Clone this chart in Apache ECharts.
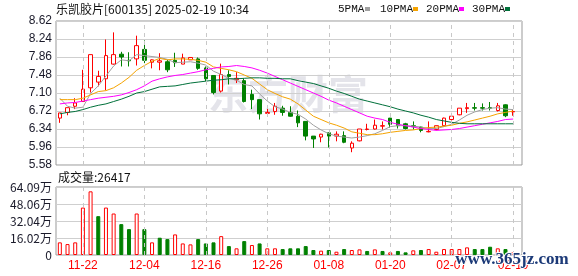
<!DOCTYPE html>
<html><head><meta charset="utf-8">
<script src="https://cdn.jsdelivr.net/npm/echarts@6/dist/echarts.min.js"></script>
<style>html,body{margin:0;padding:0;background:#fff}#c{width:578px;height:276px}</style>
</head><body><div id="c"></div>
<script>
const dates = ['11-19','11-20','11-21','11-22','11-25','11-26','11-27','11-28','11-29','12-02',
'12-03','12-04','12-05','12-06','12-09','12-10','12-11','12-12','12-13','12-16',
'12-17','12-18','12-19','12-20','12-23','12-24','12-25','12-26','12-27','12-30',
'12-31','01-02','01-03','01-06','01-07','01-08','01-09','01-10','01-13','01-14',
'01-15','01-16','01-17','01-20','01-21','01-22','01-23','01-24','01-27','02-05',
'02-06','02-07','02-10','02-11','02-12','02-13','02-14','02-17','02-18','02-19'];
const opens = [6.57,6.69,6.82,6.92,7.21,7.33,7.40,7.71,7.92,7.79,
7.82,8.02,7.75,7.75,7.76,7.79,7.71,7.80,7.82,7.63,
7.47,7.14,7.49,7.38,7.36,7.07,6.96,6.67,6.71,6.78,
6.69,6.61,6.50,6.19,6.17,6.26,6.19,6.20,5.94,6.09,
6.33,6.34,6.40,6.57,6.54,6.45,6.41,6.38,6.28,6.33,
6.41,6.54,6.64,6.77,6.79,6.79,6.79,6.73,6.85,6.70];
const closes = [6.68,6.79,6.89,7.18,7.91,7.45,7.89,7.91,7.86,7.78,
8.10,7.79,7.80,7.78,7.59,7.74,7.84,7.85,7.62,7.40,
7.11,7.49,7.45,7.41,6.92,6.96,6.66,6.69,6.82,6.69,
6.61,6.47,6.19,6.13,6.23,6.19,6.23,6.06,6.04,6.34,
6.34,6.42,6.41,6.44,6.41,6.35,6.39,6.31,6.29,6.41,
6.57,6.61,6.78,6.79,6.78,6.78,6.78,6.83,6.62,6.71];
const lows = [6.47,6.63,6.76,6.92,7.11,7.24,7.16,7.70,7.66,7.66,
7.68,7.73,7.62,7.58,7.54,7.65,7.71,7.80,7.59,7.35,
7.07,7.11,7.28,7.31,6.90,6.76,6.54,6.66,6.64,6.62,
6.60,6.38,6.10,5.94,6.06,5.95,6.08,6.04,5.85,6.08,
6.31,6.33,6.33,6.37,6.35,6.33,6.33,6.27,6.27,6.31,
6.40,6.52,6.63,6.68,6.73,6.73,6.73,6.71,6.59,6.62];
const highs = [6.68,6.79,6.99,7.59,7.91,7.57,8.23,8.38,7.97,7.96,
8.31,8.21,7.81,7.94,7.80,7.95,7.93,7.86,7.85,7.66,
7.47,7.72,7.58,7.54,7.41,7.17,6.96,6.83,6.89,6.83,
6.82,6.73,6.50,6.19,6.24,6.26,6.29,6.29,6.08,6.34,
6.45,6.54,6.50,6.57,6.54,6.47,6.50,6.39,6.50,6.41,
6.58,6.68,6.78,6.89,6.89,6.88,6.91,6.89,6.86,6.75];
// volume in 万 (10k hands)
const volumes = [11.9,10.3,11.9,44.7,60.0,36.6,44.7,39.1,29.1,24.4,
39.1,24.4,11.9,16.3,15.0,19.4,10.9,10.0,15.0,10.9,
11.9,17.8,8.4,6.3,13.1,9.4,10.9,6.3,6.3,5.6,
6.3,6.3,8.4,4.7,4.1,4.7,3.1,5.6,4.7,5.3,
3.8,5.3,3.8,2.5,3.8,2.5,4.4,4.7,5.6,3.1,
5.6,5.6,5.6,7.2,5.6,5.6,7.8,6.3,5.6,2.64];
// 1 = up day, 0 = down day (volume bar direction)
const volUp = [1,1,1,1,1,0,1,1,0,0,
1,0,1,0,0,1,1,1,0,0,
0,1,0,1,0,1,0,1,1,0,
0,0,0,0,1,0,1,0,1,1,
0,1,0,1,0,0,1,0,1,1,
1,1,1,1,0,0,0,1,0,1];
const ma5 = [6.99,6.82,6.78,6.80,7.09,7.25,7.46,7.67,7.80,7.78,
7.91,7.89,7.87,7.85,7.81,7.74,7.75,7.76,7.73,7.69,
7.56,7.49,7.41,7.37,7.28,7.25,7.08,6.93,6.81,6.76,
6.69,6.65,6.55,6.42,6.32,6.24,6.19,6.17,6.15,6.17,
6.20,6.24,6.31,6.39,6.41,6.41,6.40,6.38,6.35,6.35,
6.39,6.44,6.53,6.63,6.70,6.75,6.78,6.79,6.76,6.75];
const ma10 = [6.96,6.96,6.96,6.99,7.06,7.13,7.15,7.21,7.31,7.43,
7.58,7.68,7.77,7.83,7.80,7.82,7.82,7.81,7.79,7.75,
7.65,7.62,7.59,7.55,7.48,7.41,7.29,7.17,7.09,7.02,
6.97,6.87,6.74,6.61,6.54,6.47,6.42,6.36,6.28,6.25,
6.22,6.22,6.24,6.27,6.29,6.31,6.32,6.35,6.37,6.38,
6.40,6.42,6.46,6.49,6.53,6.57,6.61,6.66,6.69,6.72];
const ma20 = [6.87,6.89,6.90,6.93,6.96,6.99,7.01,7.03,7.06,7.11,
7.17,7.25,7.35,7.40,7.44,7.47,7.49,7.52,7.55,7.59,
7.62,7.65,7.66,7.68,7.66,7.63,7.58,7.52,7.45,7.38,
7.31,7.24,7.17,7.10,7.03,6.95,6.89,6.82,6.75,6.68,
6.61,6.57,6.54,6.48,6.44,6.41,6.38,6.35,6.33,6.31,
6.32,6.33,6.35,6.38,6.41,6.44,6.47,6.50,6.54,6.55];
const ma30 = [6.66,6.69,6.71,6.75,6.80,6.84,6.87,6.92,6.97,7.03,
7.10,7.13,7.18,7.23,7.24,7.25,7.28,7.31,7.33,7.35,
7.37,7.38,7.40,7.40,7.41,7.42,7.42,7.41,7.41,7.40,
7.40,7.36,7.33,7.30,7.25,7.20,7.14,7.09,7.03,6.97,
6.93,6.89,6.85,6.81,6.76,6.72,6.68,6.63,6.59,6.54,
6.51,6.48,6.46,6.45,6.45,6.45,6.45,6.45,6.45,6.45];
const priceTicks = ['5.58','5.96','6.34','6.72','7.10','7.48','7.86','8.24','8.62'];
const volTicks = ['0','16.02万','32.04万','48.06万','64.09万'];
const dateTicks = ['11-22','12-04','12-16','12-26','01-08','01-20','02-07','02-19'];
const maNames = ['5PMA','10PMA','20PMA','30PMA'];
const titleText = '乐凯胶片[600135] 2025-02-19 10:34';
const volText = '成交量:26417';
const priceMin = 5.58, priceMax = 8.62, volMax = 64.09;

const RED = '#ff0000', GREEN = '#008000';
const maColors = ['#a0a0a0', '#f5a300', '#ff00ff', '#00703a'];
const SANS = '"Liberation Sans", Arial, sans-serif';
const CJK = '"Noto Sans CJK SC", "Liberation Sans", sans-serif';
const MONO = '"Liberation Mono", monospace';

const chart = echarts.init(document.getElementById('c'));

const dashLines = {
  silent: true, symbol: ['none','none'], animation: false,
  label: {show: false},
  lineStyle: {color: '#c8c8c8', type: [4, 4], width: 1},
  emphasis: {disabled: true},
  data: dateTicks.map(d => ({xAxis: d}))
};

const maSeries = [ma5, ma10, ma20, ma30].map((arr, k) => ({
  name: maNames[k], type: 'line', xAxisIndex: 1, yAxisIndex: 1,
  data: arr, showSymbol: false, symbol: 'none', smooth: false,
  lineStyle: {color: maColors[k], width: 1}, itemStyle: {color: maColors[k]},
  silent: true, animation: false, z: 3
}));

const legendX = [338, 380, 426, 472];
const boxX = [365, 413, 459, 505];
const legendGraphics = [];
maNames.forEach((n, k) => {
  legendGraphics.push({type: 'text', x: legendX[k], y: 9, style: {text: n, fill: '#111', font: '11px ' + MONO, verticalAlign: 'middle', align: 'left'}});
  legendGraphics.push({type: 'rect', shape: {x: boxX[k], y: 7, width: 5, height: 4}, style: {fill: maColors[k]}});
});

chart.setOption({
  animation: false,
  backgroundColor: '#fff',
  grid: [
    {left: 56, top: 21, width: 466, height: 144, show: true, borderColor: '#999', borderWidth: 1, backgroundColor: 'transparent'},
    {left: 56, top: 21, width: 461, height: 144},
    {left: 56, top: 187, width: 466, height: 68, show: true, borderColor: '#999', borderWidth: 1, backgroundColor: 'transparent'},
    {left: 56, top: 187, width: 461, height: 68}
  ],
  xAxis: [
    {gridIndex: 0, type: 'value', min: 0, max: 1, show: false},
    {gridIndex: 1, type: 'category', data: dates, boundaryGap: true,
      axisLine: {show: false}, axisTick: {show: false}, axisLabel: {show: false}, splitLine: {show: false}},
    {gridIndex: 2, type: 'value', min: 0, max: 1, show: false},
    {gridIndex: 3, type: 'category', data: dates, boundaryGap: true,
      axisLine: {show: false}, axisTick: {show: false}, splitLine: {show: false},
      axisLabel: {show: true, interval: (i, v) => dateTicks.includes(v), color: RED, fontSize: 12, fontFamily: SANS, margin: 5}}
  ],
  yAxis: [
    {gridIndex: 0, type: 'value', min: 0, max: priceTicks.length - 1, interval: 1,
      axisLine: {show: false}, axisTick: {show: false},
      axisLabel: {formatter: v => priceTicks[Math.round(v)], color: '#1a1a2a', fontSize: 12, fontFamily: SANS, margin: 4},
      splitLine: {lineStyle: {color: '#cfcfcf', width: 1}}},
    {gridIndex: 1, type: 'value', min: priceMin, max: priceMax, show: false, splitLine: {show: false}},
    {gridIndex: 2, type: 'value', min: 0, max: volTicks.length - 1, interval: 1,
      axisLine: {show: false}, axisTick: {show: false},
      axisLabel: {formatter: v => volTicks[Math.round(v)], color: '#1a1a2a', fontSize: 12, fontFamily: CJK, margin: 4},
      splitLine: {lineStyle: {color: '#cfcfcf', width: 1}}},
    {gridIndex: 3, type: 'value', min: 0, max: volMax, show: false, splitLine: {show: false}}
  ],
  graphic: [
    {type: 'text', x: 288, y: 94, z: -1, silent: true,
      style: {text: '东方财富', fill: '#e4e4ea', font: 'bold 40px ' + CJK, align: 'center', verticalAlign: 'middle'}},
    {type: 'text', x: 56, y: 9, style: {text: titleText, fill: '#111', font: '12px ' + CJK, verticalAlign: 'middle', align: 'left'}},
    {type: 'text', x: 58, y: 177, style: {text: volText, fill: '#111', font: '12px ' + CJK, verticalAlign: 'middle', align: 'left'}},
    ...legendGraphics,
    {type: 'text', x: 512, y: 260, z: 100,
      style: {text: 'www.365jz.com', fill: '#1c3a78', font: 'bold 17px "Liberation Serif", serif', align: 'center', verticalAlign: 'middle',
        stroke: '#fff', lineWidth: 2}}
  ],
  series: [
    {type: 'candlestick', xAxisIndex: 1, yAxisIndex: 1,
      data: dates.map((_, i) => [opens[i], closes[i], lows[i], highs[i]]),
      barWidth: 4,
      itemStyle: {color: '#fff', color0: GREEN, borderColor: RED, borderColor0: GREEN, borderWidth: 1},
      markLine: dashLines, silent: true, z: 2},
    ...maSeries,
    {type: 'bar', xAxisIndex: 3, yAxisIndex: 3, barWidth: 4, silent: true,
      data: volumes.map((v, i) => ({value: v,
        itemStyle: volUp[i] ? {color: '#fff', borderColor: RED, borderWidth: 1} : {color: GREEN, borderColor: GREEN, borderWidth: 1}})),
      markLine: dashLines}
  ]
});
</script></body></html>
